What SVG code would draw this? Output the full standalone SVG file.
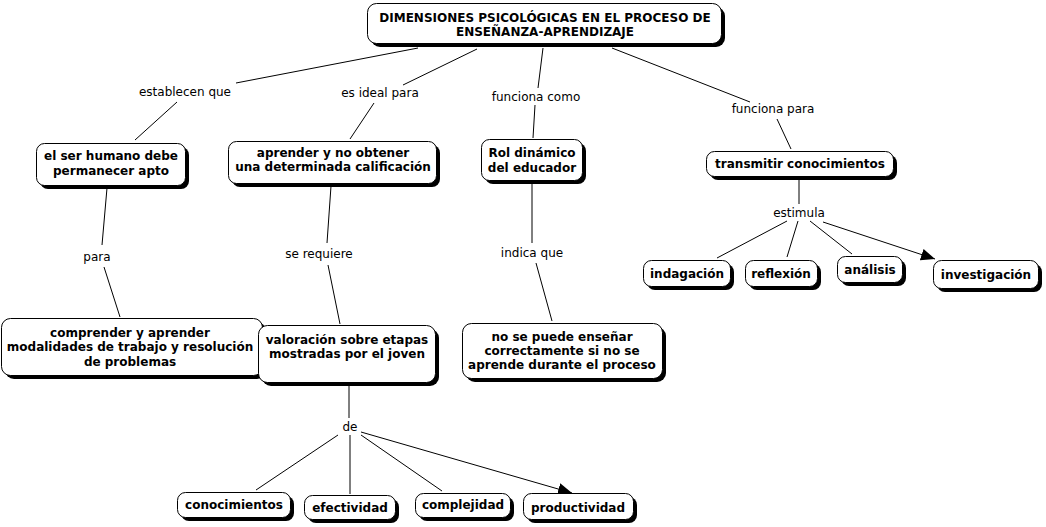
<svg xmlns="http://www.w3.org/2000/svg" width="1046" height="527" viewBox="0 0 1046 527">
<style>
.sh{fill:#000}
.bx{fill:#fff;stroke:#000;stroke-width:1}
.t{font-family:"DejaVu Sans",Verdana,sans-serif;font-size:12px;font-weight:bold;fill:#000;text-anchor:middle}
.l{font-family:"DejaVu Sans",Verdana,sans-serif;font-size:12px;fill:#000;text-anchor:middle}
.c{stroke:#000;stroke-width:1;fill:none}
</style>
<defs>
<marker id="ah" markerUnits="userSpaceOnUse" markerWidth="16" markerHeight="14" refX="14" refY="7" orient="auto">
<path d="M0,1 L14,7 L0,13 Z" fill="#000"/>
</marker>
</defs>
<rect width="1046" height="527" fill="#fff"/>
<g id="connectors">
<line class="c" x1="418" y1="48" x2="236" y2="83"/>
<line class="c" x1="177" y1="102" x2="135" y2="140"/>
<line class="c" x1="477" y1="49" x2="403" y2="85"/>
<line class="c" x1="374" y1="103" x2="350" y2="139"/>
<line class="c" x1="543" y1="48" x2="538" y2="88"/>
<line class="c" x1="535" y1="105" x2="533" y2="138"/>
<line class="c" x1="612" y1="48" x2="750" y2="102"/>
<line class="c" x1="777" y1="119" x2="791" y2="149"/>
<line class="c" x1="107" y1="188" x2="102" y2="245"/>
<line class="c" x1="104" y1="267" x2="120" y2="317"/>
<line class="c" x1="331" y1="186" x2="327" y2="243"/>
<line class="c" x1="328" y1="265" x2="340" y2="324"/>
<line class="c" x1="532" y1="182" x2="532" y2="243"/>
<line class="c" x1="536" y1="263" x2="552" y2="321"/>
<line class="c" x1="799" y1="178" x2="799" y2="204"/>
<line class="c" x1="787" y1="221" x2="717" y2="258"/>
<line class="c" x1="798" y1="221" x2="787" y2="257"/>
<line class="c" x1="810" y1="221" x2="852" y2="254"/>
<line class="c" x1="823" y1="222" x2="935" y2="259" marker-end="url(#ah)"/>
<line class="c" x1="349" y1="386" x2="349" y2="418"/>
<line class="c" x1="338" y1="435" x2="256" y2="490"/>
<line class="c" x1="350" y1="435" x2="350" y2="494"/>
<line class="c" x1="361" y1="435" x2="442" y2="491"/>
<line class="c" x1="361" y1="432" x2="572" y2="493" marker-end="url(#ah)"/>
</g>
<g id="labels">
<text class="l" x="185" y="96">establecen que</text>
<text class="l" x="380" y="97">es ideal para</text>
<text class="l" x="536" y="101">funciona como</text>
<text class="l" x="773" y="113">funciona para</text>
<text class="l" x="97" y="261">para</text>
<text class="l" x="319" y="258">se requiere</text>
<text class="l" x="532" y="257">indica que</text>
<text class="l" x="799" y="217">estimula</text>
<text class="l" x="350" y="431">de</text>
</g>
<g id="n-root">
<rect class="sh" x="371" y="7" width="354" height="40" rx="9"/>
<rect class="bx" x="367.5" y="3.5" width="354" height="40" rx="9"/>
<text class="t" x="545" y="22">DIMENSIONES PSICOLÓGICAS EN EL PROCESO DE</text>
<text class="t" x="545" y="36">ENSEÑANZA-APRENDIZAJE</text>
</g>
<g id="n-apto">
<rect class="sh" x="40" y="147" width="149" height="42" rx="8"/>
<rect class="bx" x="36.5" y="143.5" width="149" height="42" rx="8"/>
<text class="t" x="111" y="160">el ser humano debe</text>
<text class="t" x="111" y="175">permanecer apto</text>
</g>
<g id="n-aprender">
<rect class="sh" x="232" y="145" width="208" height="42" rx="8"/>
<rect class="bx" x="228.5" y="141.5" width="208" height="42" rx="8"/>
<text class="t" x="333" y="157">aprender y no obtener</text>
<text class="t" x="333" y="171">una determinada calificación</text>
</g>
<g id="n-rol">
<rect class="sh" x="485" y="143" width="101" height="41" rx="8"/>
<rect class="bx" x="481.5" y="139.5" width="101" height="41" rx="8"/>
<text class="t" x="532" y="157">Rol dinámico</text>
<text class="t" x="532" y="172">del educador</text>
</g>
<g id="n-transmitir">
<rect class="sh" x="710" y="155" width="187" height="25" rx="8"/>
<rect class="bx" x="706.5" y="151.5" width="187" height="25" rx="8"/>
<text class="t" x="800" y="168">transmitir conocimientos</text>
</g>
<g id="n-indagacion">
<rect class="sh" x="647" y="264" width="87" height="26" rx="8"/>
<rect class="bx" x="643.5" y="260.5" width="87" height="26" rx="8"/>
<text class="t" x="687" y="278">indagación</text>
</g>
<g id="n-reflexion">
<rect class="sh" x="749" y="264" width="72" height="26" rx="8"/>
<rect class="bx" x="745.5" y="260.5" width="72" height="26" rx="8"/>
<text class="t" x="781" y="278">reflexión</text>
</g>
<g id="n-analisis">
<rect class="sh" x="841" y="260" width="65" height="26" rx="8"/>
<rect class="bx" x="837.5" y="256.5" width="65" height="26" rx="8"/>
<text class="t" x="870" y="274">análisis</text>
</g>
<g id="n-investigacion">
<rect class="sh" x="937" y="264" width="105" height="28" rx="8"/>
<rect class="bx" x="933.5" y="260.5" width="105" height="28" rx="8"/>
<text class="t" x="986" y="279">investigación</text>
</g>
<g id="n-comprender">
<rect class="sh" x="5" y="322" width="261" height="57" rx="9"/>
<rect class="bx" x="1.5" y="318.5" width="261" height="57" rx="9"/>
<text class="t" x="130" y="337">comprender y aprender</text>
<text class="t" x="130" y="351">modalidades de trabajo y resolución</text>
<text class="t" x="130" y="366">de problemas</text>
</g>
<g id="n-valoracion">
<rect class="sh" x="262" y="329" width="177" height="57" rx="9"/>
<rect class="bx" x="258.5" y="325.5" width="177" height="57" rx="9"/>
<text class="t" x="347" y="344">valoración sobre etapas</text>
<text class="t" x="347" y="358">mostradas por el joven</text>
</g>
<g id="n-ensenar">
<rect class="sh" x="466" y="327" width="200" height="55" rx="9"/>
<rect class="bx" x="462.5" y="323.5" width="200" height="55" rx="9"/>
<text class="t" x="562" y="341">no se puede enseñar</text>
<text class="t" x="562" y="355">correctamente si no se</text>
<text class="t" x="562" y="369">aprende durante el proceso</text>
</g>
<g id="n-conocimientos">
<rect class="sh" x="181" y="496" width="113" height="25" rx="8"/>
<rect class="bx" x="177.5" y="492.5" width="113" height="25" rx="8"/>
<text class="t" x="234" y="509">conocimientos</text>
</g>
<g id="n-efectividad">
<rect class="sh" x="308" y="499" width="91" height="24" rx="8"/>
<rect class="bx" x="304.5" y="495.5" width="91" height="24" rx="8"/>
<text class="t" x="350" y="512">efectividad</text>
</g>
<g id="n-complejidad">
<rect class="sh" x="419" y="497" width="95" height="24" rx="8"/>
<rect class="bx" x="415.5" y="493.5" width="95" height="24" rx="8"/>
<text class="t" x="463" y="509">complejidad</text>
</g>
<g id="n-productividad">
<rect class="sh" x="527" y="497" width="110" height="26" rx="8"/>
<rect class="bx" x="523.5" y="493.5" width="110" height="26" rx="8"/>
<text class="t" x="578" y="512">productividad</text>
</g>
</svg>
